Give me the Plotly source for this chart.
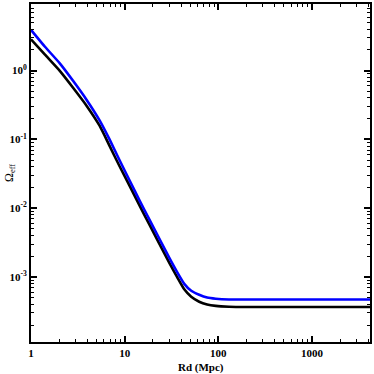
import plotly.graph_objects as go

# Rd (Mpc) sample points
rd = [1, 1.41, 2.03, 2.8, 3.9, 5.4, 6.9, 8.8, 11.3, 14.4, 18.4, 24.5, 30,
      36.5, 43.3, 51.4, 62.5, 76, 94, 130, 212, 4200]

omega_black = [2.85, 1.70, 0.990, 0.568, 0.312, 0.158, 0.0805, 0.0410,
               0.0211, 0.0110, 5.76e-3, 2.72e-3, 1.60e-3, 9.87e-4, 6.62e-4,
               5.16e-4, 4.37e-4, 3.98e-4, 3.80e-4, 3.70e-4, 3.67e-4, 3.67e-4]

omega_blue = [3.91, 2.22, 1.275, 0.717, 0.381, 0.189, 0.0998, 0.0501,
              0.0253, 0.0130, 6.80e-3, 3.22e-3, 1.89e-3, 1.165e-3, 7.95e-4,
              6.30e-4, 5.51e-4, 5.02e-4, 4.83e-4, 4.71e-4, 4.70e-4, 4.70e-4]

x_ticks = [1, 10, 100, 1000]
x_ticktext = ["1", "10", "100", "1000"]
y_ticks = [1e-3, 1e-2, 1e-1, 1]
y_ticktext = ["10<sup>-3</sup>", "10<sup>-2</sup>", "10<sup>-1</sup>", "10<sup>0</sup>"]

x_minor = [m * 10 ** e for e in range(0, 4) for m in range(2, 10)]
y_minor = [m * 10 ** e for e in range(-4, 1) for m in range(2, 10)]

FONT = "Liberation Serif"

fig = go.Figure()
fig.add_trace(go.Scatter(
    x=rd, y=omega_black, mode="lines",
    line=dict(color="black", width=2.6, shape="spline", smoothing=0.5),
))
fig.add_trace(go.Scatter(
    x=rd, y=omega_blue, mode="lines",
    line=dict(color="#0000ff", width=2.6, shape="spline", smoothing=0.5),
))

axis_common = dict(
    showline=True, linecolor="black", linewidth=2, mirror="ticks",
    ticks="inside", ticklen=6, tickwidth=1.5, tickcolor="black",
    showgrid=False, zeroline=False,
    tickfont=dict(family=FONT, size=11, color="black", weight="bold"),
)

fig.update_xaxes(
    type="log", range=[0, 3.62],
    tickmode="array", tickvals=x_ticks, ticktext=x_ticktext,
    minor=dict(ticks="inside", ticklen=3, tickwidth=1, tickcolor="black",
               tickmode="array", tickvals=x_minor, showgrid=False),
    **axis_common,
)
fig.update_yaxes(
    type="log", range=[-3.945, 0.968],
    tickmode="array", tickvals=y_ticks, ticktext=y_ticktext,
    minor=dict(ticks="inside", ticklen=3, tickwidth=1, tickcolor="black",
               tickmode="array", tickvals=y_minor, showgrid=False),
    **axis_common,
)

fig.add_annotation(
    text="<b>Rd (Mpc)</b>", xref="paper", yref="paper",
    x=0.5, y=-0.074, xanchor="center", yanchor="middle", showarrow=False,
    font=dict(family=FONT, size=11, color="black"),
)
fig.add_annotation(
    text="Ω<sub>eff</sub>", xref="paper", yref="paper",
    x=-0.062, y=0.5, xanchor="center", yanchor="middle", showarrow=False,
    textangle=-90, font=dict(family=FONT, size=12, color="black"),
)

fig.update_layout(
    width=374, height=374,
    margin=dict(l=31, r=2, t=2, b=32),
    paper_bgcolor="white", plot_bgcolor="white",
    showlegend=False,
    font=dict(family=FONT, color="black"),
)

# page margin off so the 374px figure fills the window
fig.write_html("out.html",
               config={"displayModeBar": False},
               post_script="document.body.style.margin='0';"
                           "document.body.style.overflow='hidden';")
